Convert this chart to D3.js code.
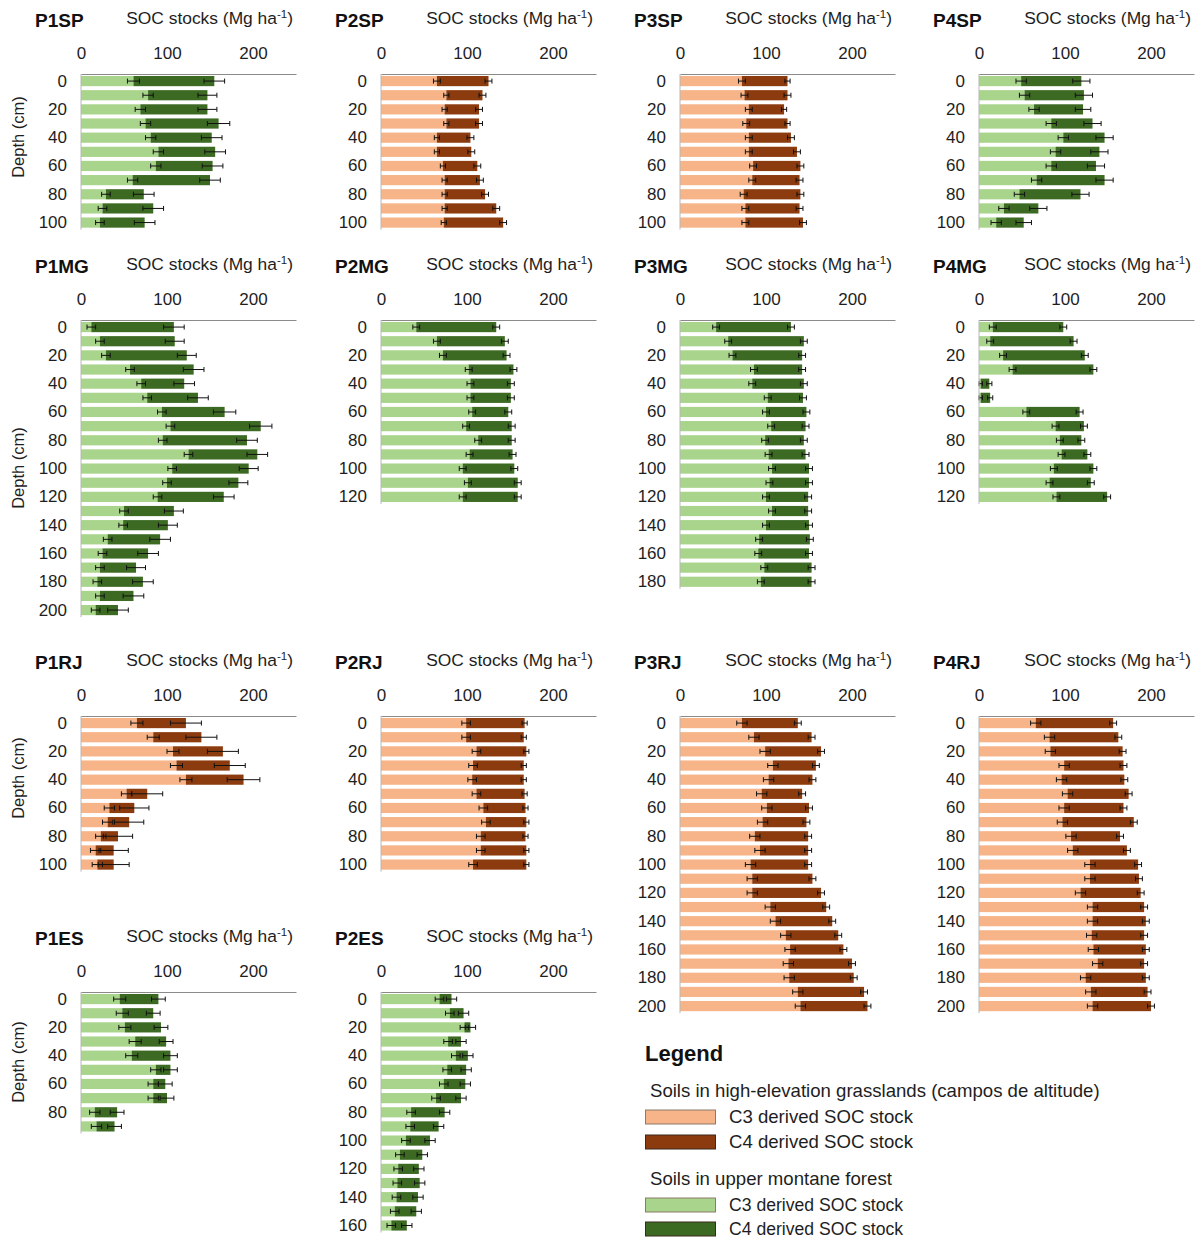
<!DOCTYPE html>
<html>
<head>
<meta charset="utf-8">
<script src="https://cdn.jsdelivr.net/npm/d3@7"></script>
<style>
  body { margin: 0; background: #fff; }
  svg { display: block; font-family: "Liberation Sans", Arial, sans-serif; }
</style>
</head>
<body>
<svg id="chart" width="1202" height="1240"></svg>
<script>
// Depth classes (cm, top of each 10 cm layer)
const depth90  = [0, 10, 20, 30, 40, 50, 60, 70, 80, 90];
const depth100 = [0, 10, 20, 30, 40, 50, 60, 70, 80, 90, 100];
const depth120 = [0, 10, 20, 30, 40, 50, 60, 70, 80, 90, 100, 110, 120];
const depth160 = [0, 10, 20, 30, 40, 50, 60, 70, 80, 90, 100, 110, 120, 130, 140, 150, 160];
const depth180 = [0, 10, 20, 30, 40, 50, 60, 70, 80, 90, 100, 110, 120, 130, 140, 150, 160, 170, 180];
const depth200 = [0, 10, 20, 30, 40, 50, 60, 70, 80, 90, 100, 110, 120, 130, 140, 150, 160, 170, 180, 190, 200];

const xTicks = [0, 100, 200];

// SOC stocks (Mg ha-1): C3-derived, C4-derived, and their standard errors
const P1SP_c3 = [61, 78, 69, 75, 81, 90, 87, 60, 29, 25, 22];
const P1SP_c4 = [94, 69, 78, 85, 71, 66, 66, 90, 44, 59, 52];
const P1SP_e3 = [7, 6, 6, 6, 6, 6, 6, 6, 5, 5, 5];
const P1SP_e4 = [12, 11, 11, 13, 12, 12, 12, 12, 12, 12, 12];

const P2SP_c3 = [65, 76, 74, 76, 65, 65, 72, 74, 74, 74, 73];
const P2SP_c4 = [60, 42, 40, 38, 39, 40, 40, 41, 47, 60, 69];
const P2SP_e3 = [4, 3, 3, 3, 3, 3, 3, 3, 3, 3, 3];
const P2SP_e4 = [4, 4, 4, 4, 4, 4, 4, 4, 4, 4, 4];

const P3SP_c3 = [72, 75, 80, 77, 80, 80, 85, 84, 74, 76, 76];
const P3SP_c4 = [53, 50, 41, 48, 49, 56, 55, 55, 66, 63, 67];
const P3SP_e3 = [4, 4, 4, 4, 4, 4, 4, 4, 4, 4, 4];
const P3SP_e4 = [3, 4, 3, 3, 4, 4, 4, 4, 4, 4, 4];

const P4SP_c3 = [49, 53, 64, 84, 98, 89, 84, 67, 47, 29, 20];
const P4SP_c4 = [70, 69, 57, 48, 48, 51, 52, 79, 71, 40, 32];
const P4SP_e3 = [6, 6, 6, 6, 6, 6, 6, 6, 6, 6, 6];
const P4SP_e4 = [10, 10, 9, 10, 10, 10, 10, 10, 10, 10, 9];

const P1MG_c3 = [12, 22, 29, 57, 70, 77, 94, 104, 95, 125, 106, 100, 89, 50, 49, 31, 25, 22, 19, 22, 17];
const P1MG_c4 = [96, 87, 94, 74, 50, 59, 73, 105, 98, 80, 89, 83, 77, 58, 52, 61, 53, 42, 53, 39, 26];
const P1MG_e3 = [5, 5, 5, 5, 5, 5, 5, 5, 5, 5, 5, 5, 5, 5, 5, 5, 5, 5, 5, 5, 5];
const P1MG_e4 = [12, 11, 11, 12, 12, 12, 13, 13, 12, 12, 11, 11, 12, 11, 11, 12, 12, 11, 12, 12, 12];

const P2MG_c3 = [41, 65, 72, 102, 104, 104, 106, 99, 113, 103, 95, 101, 95];
const P2MG_c4 = [93, 79, 74, 52, 47, 47, 42, 53, 39, 50, 60, 58, 64];
const P2MG_e3 = [4, 4, 4, 4, 4, 4, 4, 4, 4, 4, 4, 4, 4];
const P2MG_e4 = [4, 4, 4, 4, 4, 4, 4, 4, 4, 4, 4, 4, 4];

const P3MG_c3 = [42, 56, 61, 86, 84, 102, 100, 106, 99, 103, 107, 104, 100, 107, 100, 92, 91, 98, 94];
const P3MG_c4 = [87, 88, 81, 56, 60, 41, 47, 40, 45, 43, 43, 46, 49, 42, 50, 59, 59, 55, 59];
const P3MG_e3 = [4, 4, 4, 4, 4, 4, 4, 4, 4, 4, 4, 4, 4, 4, 4, 4, 4, 4, 4];
const P3MG_e4 = [4, 4, 4, 4, 4, 4, 4, 4, 4, 4, 4, 4, 4, 4, 4, 4, 4, 4, 4];

const P4MG_c3 = [16, 13, 28, 39, 2, 2, 55, 89, 94, 96, 87, 82, 90];
const P4MG_c4 = [82, 97, 95, 94, 10, 11, 62, 33, 25, 30, 46, 48, 59];
const P4MG_e3 = [4, 4, 4, 4, 2, 2, 4, 4, 4, 4, 4, 4, 4];
const P4MG_e4 = [4, 4, 4, 4, 3, 3, 4, 4, 4, 4, 4, 4, 4];

const P1RJ_c3 = [65, 84, 107, 111, 122, 53, 33, 31, 23, 17, 19];
const P1RJ_c4 = [57, 56, 58, 62, 67, 24, 29, 25, 20, 21, 19];
const P1RJ_e3 = [7, 7, 7, 7, 7, 6, 6, 6, 6, 6, 6];
const P1RJ_e4 = [18, 18, 18, 18, 19, 18, 17, 17, 17, 17, 18];

const P2RJ_c3 = [99, 99, 111, 107, 106, 111, 119, 122, 116, 116, 107];
const P2RJ_c4 = [68, 67, 58, 59, 60, 56, 49, 47, 52, 53, 62];
const P2RJ_e3 = [5, 5, 5, 5, 5, 5, 5, 5, 5, 5, 5];
const P2RJ_e4 = [3, 3, 3, 3, 3, 3, 3, 3, 3, 3, 3];

const P3RJ_c3 = [72, 86, 99, 108, 103, 95, 101, 96, 87, 93, 82, 84, 84, 105, 111, 123, 128, 126, 127, 137, 140];
const P3RJ_c4 = [65, 67, 65, 50, 51, 47, 49, 51, 62, 56, 67, 70, 80, 65, 66, 61, 62, 74, 75, 77, 78];
const P3RJ_e3 = [6, 6, 6, 6, 6, 6, 6, 6, 6, 6, 6, 6, 6, 6, 6, 6, 6, 6, 6, 6, 6];
const P3RJ_e4 = [4, 4, 4, 4, 4, 4, 4, 4, 4, 4, 4, 4, 4, 4, 4, 4, 4, 4, 4, 4, 4];

const P4RJ_c3 = [66, 82, 83, 99, 96, 103, 99, 97, 107, 109, 129, 129, 118, 132, 132, 131, 133, 138, 124, 130, 132];
const P4RJ_c4 = [90, 80, 84, 69, 73, 71, 69, 83, 57, 63, 56, 57, 70, 60, 62, 61, 61, 54, 70, 66, 68];
const P4RJ_e3 = [6, 6, 6, 6, 6, 6, 6, 6, 6, 6, 6, 6, 6, 6, 6, 6, 6, 6, 6, 6, 6];
const P4RJ_e4 = [4, 4, 4, 4, 4, 4, 4, 4, 4, 4, 4, 4, 4, 4, 4, 4, 4, 4, 4, 4, 4];

const P1ES_c3 = [45, 48, 51, 63, 59, 87, 84, 84, 16, 18];
const P1ES_c4 = [45, 36, 42, 36, 45, 17, 14, 16, 26, 21];
const P1ES_e3 = [7, 7, 7, 7, 7, 6, 6, 6, 6, 6];
const P1ES_e4 = [8, 8, 8, 8, 8, 8, 8, 8, 8, 8];

const P2ES_c3 = [68, 80, 97, 78, 87, 77, 73, 64, 35, 34, 29, 22, 20, 19, 18, 16, 12];
const P2ES_c4 = [14, 16, 7, 15, 14, 22, 25, 29, 39, 33, 28, 26, 24, 26, 25, 25, 18];
const P2ES_e3 = [5, 5, 5, 5, 5, 5, 5, 5, 5, 5, 5, 5, 5, 5, 5, 5, 5];
const P2ES_e4 = [6, 6, 6, 6, 6, 6, 6, 6, 6, 6, 6, 6, 6, 6, 6, 6, 6];

// Colours per vegetation type
const palette = {
  grass:  { c3: "#f6b488", c4: "#8c3b0f" },
  forest: { c3: "#a9d48b", c4: "#3c6a23" }
};

// Panel table: grid position and vegetation type
const panels = [
  { name: "P1SP", type: "forest", col: 0, row: 0, depths: depth100, c3: P1SP_c3, c4: P1SP_c4, e3: P1SP_e3, e4: P1SP_e4 },
  { name: "P2SP", type: "grass",  col: 1, row: 0, depths: depth100, c3: P2SP_c3, c4: P2SP_c4, e3: P2SP_e3, e4: P2SP_e4 },
  { name: "P3SP", type: "grass",  col: 2, row: 0, depths: depth100, c3: P3SP_c3, c4: P3SP_c4, e3: P3SP_e3, e4: P3SP_e4 },
  { name: "P4SP", type: "forest", col: 3, row: 0, depths: depth100, c3: P4SP_c3, c4: P4SP_c4, e3: P4SP_e3, e4: P4SP_e4 },
  { name: "P1MG", type: "forest", col: 0, row: 1, depths: depth200, c3: P1MG_c3, c4: P1MG_c4, e3: P1MG_e3, e4: P1MG_e4 },
  { name: "P2MG", type: "forest", col: 1, row: 1, depths: depth120, c3: P2MG_c3, c4: P2MG_c4, e3: P2MG_e3, e4: P2MG_e4 },
  { name: "P3MG", type: "forest", col: 2, row: 1, depths: depth180, c3: P3MG_c3, c4: P3MG_c4, e3: P3MG_e3, e4: P3MG_e4 },
  { name: "P4MG", type: "forest", col: 3, row: 1, depths: depth120, c3: P4MG_c3, c4: P4MG_c4, e3: P4MG_e3, e4: P4MG_e4 },
  { name: "P1RJ", type: "grass",  col: 0, row: 2, depths: depth100, c3: P1RJ_c3, c4: P1RJ_c4, e3: P1RJ_e3, e4: P1RJ_e4 },
  { name: "P2RJ", type: "grass",  col: 1, row: 2, depths: depth100, c3: P2RJ_c3, c4: P2RJ_c4, e3: P2RJ_e3, e4: P2RJ_e4 },
  { name: "P3RJ", type: "grass",  col: 2, row: 2, depths: depth200, c3: P3RJ_c3, c4: P3RJ_c4, e3: P3RJ_e3, e4: P3RJ_e4 },
  { name: "P4RJ", type: "grass",  col: 3, row: 2, depths: depth200, c3: P4RJ_c3, c4: P4RJ_c4, e3: P4RJ_e3, e4: P4RJ_e4 },
  { name: "P1ES", type: "forest", col: 0, row: 3, depths: depth90,  c3: P1ES_c3, c4: P1ES_c4, e3: P1ES_e3, e4: P1ES_e4 },
  { name: "P2ES", type: "forest", col: 1, row: 3, depths: depth160, c3: P2ES_c3, c4: P2ES_c4, e3: P2ES_e3, e4: P2ES_e4 }
];

// Layout
const colX0 = [81, 381, 680, 979];         // x of zero stock per column
const rowAxisY = [74, 320, 716, 992];      // y of the top axis per row
const rowDepthLabelY = [137, 468, 778, 1062];
const plotWidth = 215;                     // 0..250 Mg/ha
const rowPitch = 14.15;                    // one 10 cm layer
const textColor = "#1e1e1e";

const svg = d3.select("#chart");
svg.append("rect").attr("width", 1202).attr("height", 1240).attr("fill", "#fff");

panels.forEach(p => {
  const x0 = colX0[p.col];
  const y0 = rowAxisY[p.row];
  const n = p.depths.length;
  const g = svg.append("g");

  const x = d3.scaleLinear().domain([0, 250]).range([x0, x0 + plotWidth]);
  const y = d3.scaleBand().domain(p.depths).range([y0, y0 + n * rowPitch])
    .paddingInner(0.28).paddingOuter(0.14);

  const rows = p.depths.map((d, i) => ({
    depth: d, c3: p.c3[i], c4: p.c4[i], e3: p.e3[i], e4: p.e4[i]
  }));
  const stack = d3.stack().keys(["c3", "c4"])(rows);
  const col = palette[p.type];

  // stacked bars
  stack.forEach(layer => {
    g.append("g").selectAll("rect").data(layer).join("rect")
      .attr("x", d => x(d[0]))
      .attr("y", d => y(d.data.depth))
      .attr("width", d => Math.max(0, x(d[1]) - x(d[0])))
      .attr("height", y.bandwidth())
      .attr("fill", col[layer.key]);
  });

  // error bars at the C3 boundary and at the stack total
  const errs = [];
  rows.forEach(r => {
    errs.push({ depth: r.depth, v: r.c3, e: r.e3 });
    errs.push({ depth: r.depth, v: r.c3 + r.c4, e: r.e4 });
  });
  const eg = g.append("g").attr("stroke", "#111").attr("stroke-width", 1);
  errs.forEach(d => {
    const cy = y(d.depth) + y.bandwidth() / 2;
    const xa = x(d.v - d.e), xb = x(d.v + d.e);
    eg.append("line").attr("x1", xa).attr("x2", xb).attr("y1", cy).attr("y2", cy);
    eg.append("line").attr("x1", xa).attr("x2", xa).attr("y1", cy - 2.5).attr("y2", cy + 2.5);
    eg.append("line").attr("x1", xb).attr("x2", xb).attr("y1", cy - 2.5).attr("y2", cy + 2.5);
  });

  // left (depth) axis line
  g.append("line")
    .attr("x1", x0).attr("x2", x0)
    .attr("y1", y0).attr("y2", y0 + n * rowPitch)
    .attr("stroke", "#b8b8b8").attr("stroke-width", 1);

  // top axis
  const xAxis = g.append("g").attr("transform", `translate(0,${y0})`)
    .call(d3.axisTop(x).tickValues(xTicks).tickSize(0).tickPadding(15));
  xAxis.select(".domain").attr("stroke", "#8a8a8a").attr("stroke-width", 1.2);
  xAxis.selectAll("text").attr("font-size", 17).attr("fill", textColor)
    .style("font-family", '"Liberation Sans", Arial, sans-serif');

  // depth axis labels every 20 cm
  const yAxis = g.append("g").attr("transform", `translate(${x0},0)`)
    .call(d3.axisLeft(y).tickValues(p.depths.filter(d => d % 20 === 0)).tickSize(0).tickPadding(14));
  yAxis.select(".domain").remove();
  yAxis.selectAll("text").attr("font-size", 17).attr("fill", textColor)
    .style("font-family", '"Liberation Sans", Arial, sans-serif');

  // panel title
  g.append("text")
    .attr("x", x0 - 46).attr("y", y0 - 47)
    .attr("font-size", 19).attr("font-weight", "bold").attr("fill", "#111")
    .text(p.name);

  // axis title with superscript
  const t = g.append("text")
    .attr("x", x0 + 212).attr("y", y0 - 50)
    .attr("text-anchor", "end")
    .attr("font-size", 17.4).attr("fill", textColor);
  t.append("tspan").text("SOC stocks (Mg ha");
  t.append("tspan").attr("dy", -6).attr("font-size", 11.5).text("-1");
  t.append("tspan").attr("dy", 6).text(")");

  // vertical axis title on the first column
  if (p.col === 0) {
    g.append("text")
      .attr("transform", `translate(24,${rowDepthLabelY[p.row]}) rotate(-90)`)
      .attr("text-anchor", "middle")
      .attr("font-size", 16.5).attr("fill", textColor)
      .text("Depth (cm)");
  }
});

// Legend
const legend = svg.append("g");
legend.append("text").attr("x", 645).attr("y", 1061)
  .attr("font-size", 22).attr("font-weight", "bold").attr("fill", "#111").text("Legend");

const legendGroups = [
  { title: "Soils in high-elevation grasslands (campos de altitude)", type: "grass", y: 1097, size: 18.6, titleSize: 18.6, step: 25 },
  { title: "Soils in upper montane forest", type: "forest", y: 1185, size: 17.6, titleSize: 18.6, step: 24 }
];
const legendItems = [
  { key: "c3", label: "C3 derived SOC stock" },
  { key: "c4", label: "C4 derived SOC stock" }
];
legendGroups.forEach(grp => {
  legend.append("text").attr("x", 650).attr("y", grp.y)
    .attr("font-size", grp.titleSize).attr("fill", textColor).text(grp.title);
  legendItems.forEach((it, i) => {
    const sy = grp.y + 13 + i * grp.step;
    legend.append("rect")
      .attr("x", 645.5).attr("y", sy).attr("width", 70).attr("height", 14)
      .attr("fill", palette[grp.type][it.key])
      .attr("stroke", it.key === "c3" ? "#8c7a6a" : "#3a2a1a").attr("stroke-width", 1);
    legend.append("text").attr("x", 729).attr("y", sy + 12.5)
      .attr("font-size", grp.size).attr("fill", textColor).text(it.label);
  });
});
</script>
</body>
</html>
